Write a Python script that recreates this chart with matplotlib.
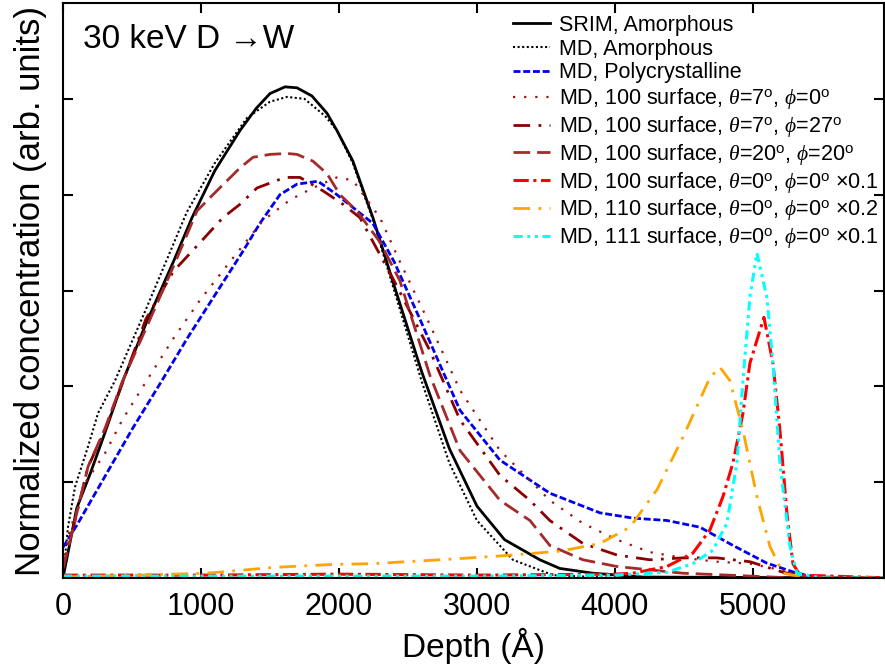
import matplotlib
matplotlib.use("Agg")
import matplotlib.pyplot as plt

plt.rcParams['font.family'] = ['Liberation Sans', 'DejaVu Sans']
plt.rcParams['mathtext.fontset'] = 'custom'
plt.rcParams['mathtext.rm'] = 'Liberation Sans'
plt.rcParams['mathtext.it'] = 'Liberation Serif:italic'

# depth in Angstrom, concentration in arb. units
srim_depth = [0, 100, 200, 300, 435, 600, 800, 935, 1100, 1283, 1400, 1500, 1609, 1696, 1804,
              1913, 1985, 2101, 2246, 2400, 2600, 2800, 3000, 3200, 3456, 3600, 3840, 4200, 6000]
srim_conc = [0, 0.73, 1.10, 1.50, 2.06, 2.65, 3.30, 3.76, 4.25, 4.67, 4.90, 5.055, 5.125, 5.115, 5.03,
             4.85, 4.67, 4.35, 3.76, 3.05, 2.15, 1.35, 0.75, 0.40, 0.19, 0.10, 0.05, 0.01, 0]

amor_depth = [0, 36, 87, 181, 254, 377, 600, 898, 1100, 1333, 1500, 1623, 1750, 1900, 1985,
              2100, 2246, 2400, 2600, 2800, 3000, 3260, 3550, 4000, 6000]
amor_conc = [0, 0.53, 0.95, 1.37, 1.72, 2.06, 2.80, 3.82, 4.33, 4.80, 4.97, 5.02, 5.0, 4.82, 4.67,
             4.33, 3.74, 3.0, 2.05, 1.2, 0.6, 0.19, 0.03, 0.0, 0]

poly_depth = [0, 100, 300, 500, 717, 900, 1100, 1300, 1427, 1572, 1696, 1848, 1985, 2246, 2400,
              2587, 2877, 3167, 3528, 3891, 4130, 4377, 4616, 4855, 5101, 5319, 5464, 6000]
poly_conc = [0.32, 0.55, 1.05, 1.55, 2.06, 2.5, 2.95, 3.4, 3.70, 4.0, 4.11, 4.14, 4.0, 3.70, 3.3,
             2.7, 1.75, 1.23, 0.885, 0.68, 0.625, 0.60, 0.53, 0.34, 0.155, 0.05, 0.01, 0]

s100a_depth = [0, 36, 159, 304, 430, 594, 800, 993, 1210, 1449, 1650, 1811, 1985, 2101, 2297,
               2442, 2660, 2877, 3167, 3384, 3528, 3768, 4014, 4253, 4493, 4739, 4978, 5217, 5413, 6000]
s100a_conc = [0, 0.43, 0.99, 1.30, 1.65, 2.03, 2.5, 2.9, 3.3, 3.73, 3.95, 4.07, 4.18, 4.15, 3.76,
              3.3, 2.64, 1.96, 1.33, 1.02, 0.81, 0.57, 0.40, 0.27, 0.21, 0.17, 0.15, 0.08, 0.01, 0]

s100b_depth = [0, 87, 181, 304, 430, 600, 800, 993, 1159, 1283, 1406, 1609, 1717, 1884, 2029,
               2152, 2400, 2660, 2877, 3167, 3384, 3528, 3768, 4014, 4253, 4493, 4739, 4978, 5217, 5391, 6000]
s100b_conc = [0.1, 0.6, 1.16, 1.54, 2.03, 2.7, 3.2, 3.5, 3.76, 3.9, 4.07, 4.18, 4.18, 4.04, 3.9,
              3.76, 3.1, 2.37, 1.65, 1.07, 0.81, 0.6, 0.36, 0.24, 0.19, 0.21, 0.21, 0.17, 0.06, 0.01, 0]

s100c_depth = [0, 87, 181, 304, 430, 600, 800, 971, 1087, 1283, 1377, 1500, 1623, 1696, 1811,
               1913, 2007, 2130, 2300, 2442, 2660, 2877, 3167, 3384, 3528, 3768, 4014, 4493, 4978, 5300, 6000]
s100c_conc = [0.1, 0.6, 1.16, 1.56, 2.05, 2.6, 3.25, 3.83, 4.0, 4.28, 4.39, 4.42, 4.43, 4.42, 4.35,
              4.22, 4.0, 3.83, 3.5, 3.1, 2.11, 1.33, 0.81, 0.60, 0.34, 0.19, 0.12, 0.05, 0.02, 0.0, 0]

c100_depth = [0, 1000, 2000, 3000, 4000, 4130, 4377, 4565, 4688, 4783, 4855, 4928, 4978, 5080,
              5145, 5196, 5246, 5290, 5340, 6000]
c100_conc = [0.03, 0.03, 0.04, 0.03, 0.04, 0.05, 0.12, 0.26, 0.5, 0.85, 1.2, 1.72, 2.24, 2.72,
             2.24, 1.54, 0.68, 0.15, 0.03, 0]

c110_depth = [0, 558, 1043, 1522, 1935, 2246, 2732, 3167, 3601, 3891, 4109, 4304, 4493, 4688, 4761,
              4833, 4928, 5029, 5123, 5217, 5400, 6000]
c110_conc = [0.01, 0.03, 0.05, 0.11, 0.14, 0.15, 0.19, 0.23, 0.28, 0.36, 0.53, 0.92, 1.47, 2.09, 2.2,
             2.06, 1.54, 0.85, 0.33, 0.05, 0.0, 0]

c111_depth = [0, 1000, 2000, 3000, 4000, 4377, 4565, 4710, 4811, 4884, 4928, 4978, 5029, 5101,
              5145, 5196, 5268, 5319, 5500, 6000]
c111_conc = [0.02, 0.02, 0.02, 0.02, 0.03, 0.06, 0.15, 0.29, 0.57, 1.2, 2.06, 2.93, 3.39, 2.93,
             2.24, 1.2, 0.33, 0.05, 0.0, 0]

fig = plt.figure(figsize=(8.85, 6.72), dpi=100)
ax = fig.add_axes([63 / 885, 94 / 672, 821 / 885, 575 / 672])

ax.plot(srim_depth, srim_conc, color='black', lw=2.0, ls='-', label='SRIM, Amorphous')
ax.plot(amor_depth, amor_conc, color='black', lw=1.5, ls=(0, (1, 1.2)), label='MD, Amorphous')
ax.plot(poly_depth, poly_conc, color='#0000ee', lw=2.0, ls=(0, (2.5, 1)), label='MD, Polycrystalline')
ax.plot(s100a_depth, s100a_conc, color='#a01010', lw=1.6, ls=(0, (1, 4)),
        label=r'MD, 100 surface, $\it{\theta}$=7$^{\rm o}$, $\it{\phi}$=0$^{\rm o}$')
ax.plot(s100b_depth, s100b_conc, color='#8b0000', lw=2.0, ls=(0, (6, 3, 1, 3)),
        label=r'MD, 100 surface, $\it{\theta}$=7$^{\rm o}$, $\it{\phi}$=27$^{\rm o}$')
ax.plot(s100c_depth, s100c_conc, color='#a52a2a', lw=2.0, ls=(0, (6, 2.5)),
        label=r'MD, 100 surface, $\it{\theta}$=20$^{\rm o}$, $\it{\phi}$=20$^{\rm o}$')
ax.plot(c100_depth, c100_conc, color='#ff0000', lw=2.2, ls=(0, (5, 1.5, 1, 1.5)),
        label=r'MD, 100 surface, $\it{\theta}$=0$^{\rm o}$, $\it{\phi}$=0$^{\rm o}$ $\times$0.1')
ax.plot(c110_depth, c110_conc, color='#ffa500', lw=2.0, ls=(0, (6, 3, 1, 3)),
        label=r'MD, 110 surface, $\it{\theta}$=0$^{\rm o}$, $\it{\phi}$=0$^{\rm o}$ $\times$0.2')
ax.plot(c111_depth, c111_conc, color='#00ffff', lw=2.2, ls=(0, (3, 1.5, 1, 1.5, 1, 1.5)),
        label=r'MD, 111 surface, $\it{\theta}$=0$^{\rm o}$, $\it{\phi}$=0$^{\rm o}$ $\times$0.1')

ax.set_xlim(0, 5950)
ax.set_ylim(0, 6)
ax.set_xticks([0, 1000, 2000, 3000, 4000, 5000])
ax.set_yticks([1, 2, 3, 4, 5])
ax.set_yticklabels([])
ax.tick_params(direction='in', length=7, width=1.5, top=True, right=True)
ax.tick_params(axis='x', pad=10, labelsize=22)
for sp in ax.spines.values():
    sp.set_linewidth(1.5)

ax.set_xlabel('Depth (Å)', fontsize=24, labelpad=4)
ax.set_ylabel('Normalized concentration (arb. units)', fontsize=25, labelpad=8)

ax.text(0.024, 0.936, '30 keV D →W', transform=ax.transAxes, fontsize=24,
        ha='left', va='center', family=['Liberation Sans', 'DejaVu Sans'])

ax.legend(loc='upper right', bbox_to_anchor=(1.008, 1.0), frameon=False, fontsize=15.5,
          handlelength=1.75, handletextpad=0.4, labelspacing=0.13, borderaxespad=0.15)

fig.savefig('out.png', dpi=100)
